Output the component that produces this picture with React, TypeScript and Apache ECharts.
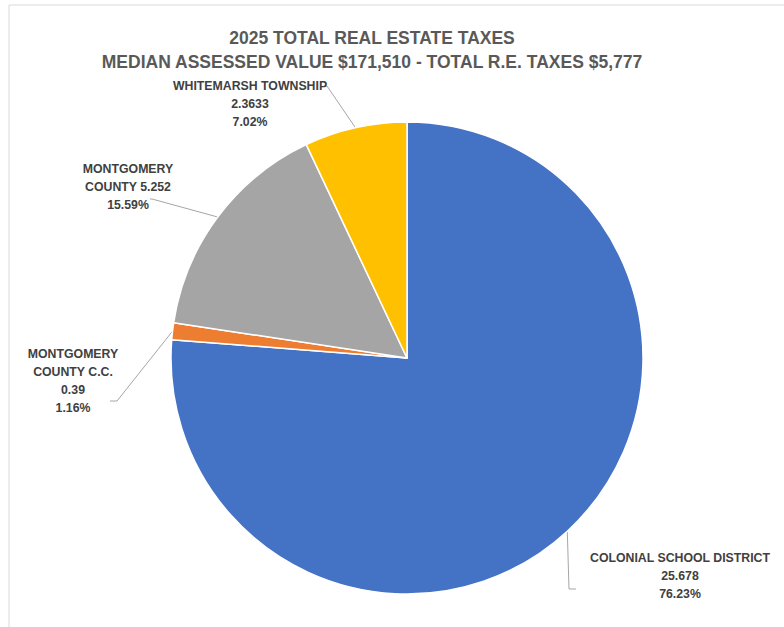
import React, { useEffect, useRef } from "react";
import * as echarts from "echarts";

const titleLines = [
  "2025 TOTAL REAL ESTATE TAXES",
  "MEDIAN ASSESSED VALUE $171,510 - TOTAL R.E. TAXES $5,777",
];
const categories = [
  "COLONIAL SCHOOL DISTRICT",
  "MONTGOMERY\nCOUNTY C.C.",
  "MONTGOMERY\nCOUNTY",
  "WHITEMARSH TOWNSHIP",
];
const values = [25.678, 0.39, 5.252, 2.3633];
const valueSeparators = ["\n", "\n", " ", "\n"];
const colors = ["#4472C4", "#ED7D31", "#A5A5A5", "#FFC000"];

// label block centres and leader-line bends (layout only)
const labelPlacement = [
  { x: 680, y: 576, bend: [569, 589], end: [576, 589] },
  { x: 73, y: 381, bend: [117, 401], end: [110, 401] },
  { x: 128, y: 187, bend: [152, 199], end: [150, 199] },
  { x: 250, y: 104, bend: [327, 86], end: [325, 86] },
];

const FONT = '"Liberation Sans", Arial, sans-serif';

export default function App() {
  const ref = useRef<HTMLDivElement>(null);
  useEffect(() => {
    if (!ref.current) return;
    const chart = echarts.init(ref.current, undefined, { renderer: "svg" });
    chart.setOption({
      animation: false,
      backgroundColor: "#ffffff",
      title: {
        text: titleLines.join("\n"),
        left: 367,
        top: 21,
        textAlign: "center",
        textStyle: {
          fontFamily: FONT,
          fontWeight: "bold",
          fontSize: 17.5,
          lineHeight: 24,
          color: "#595959",
        },
      },
      graphic: [
        {
          type: "rect",
          shape: { x: 9, y: 5, width: 800, height: 700 },
          style: { fill: "none", stroke: "#d9d9d9", lineWidth: 1 },
          silent: true,
        },
      ],
      series: [
        {
          type: "pie",
          center: [407, 358],
          radius: 236,
          startAngle: 90,
          clockwise: true,
          percentPrecision: 2,
          avoidLabelOverlap: false,
          itemStyle: { borderColor: "#ffffff", borderWidth: 1.5 },
          label: {
            show: true,
            position: "outside",
            fontFamily: FONT,
            fontWeight: "bold",
            fontSize: 12.3,
            lineHeight: 17.7,
            color: "#404040",
            align: "center",
            formatter: (p: any) =>
              `${p.name}${valueSeparators[p.dataIndex]}${p.value}\n${p.percent.toFixed(2)}%`,
          },
          labelLine: {
            show: true,
            length: 20,
            length2: 10,
            lineStyle: { color: "#a6a6a6", width: 1 },
          },
          labelLayout: (p: any) => {
            const L = labelPlacement[p.dataIndex];
            const start =
              p.labelLinePoints && p.labelLinePoints[0]
                ? [p.labelLinePoints[0][0], p.labelLinePoints[0][1]]
                : L.bend;
            return {
              x: L.x,
              y: L.y,
              align: "center",
              verticalAlign: "middle",
              labelLinePoints: [start, L.bend, L.end],
            };
          },
          data: categories.map((name, i) => ({
            name,
            value: values[i],
            itemStyle: { color: colors[i] },
          })),
        },
      ],
    });
    return () => chart.dispose();
  }, []);
  return (
    <div
      ref={ref}
      style={{ position: "absolute", left: 0, top: 0, width: 784, height: 627 }}
    />
  );
}
